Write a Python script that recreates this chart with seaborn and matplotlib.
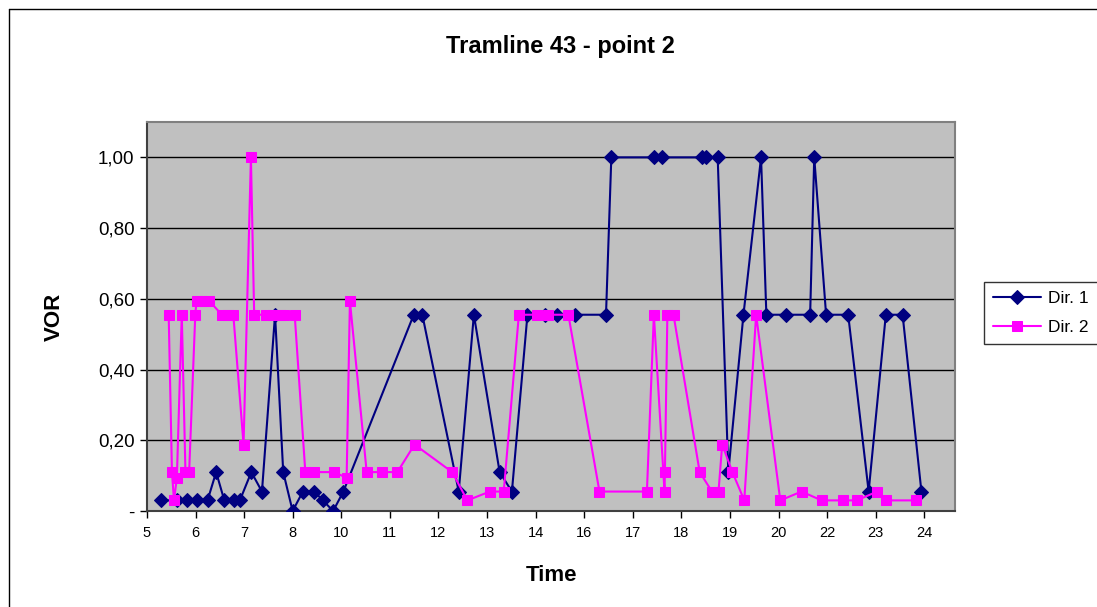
import matplotlib
matplotlib.use("Agg")
import matplotlib.pyplot as plt
import seaborn as sns
import pandas as pd
from matplotlib.lines import Line2D

# ---- data (time in hours, VOR) ----
dir1_time = [5.34, 5.73, 5.98, 6.22, 6.48, 6.69, 6.89, 7.12, 7.27, 7.55,
             7.81, 8.13, 8.33, 8.56, 8.81, 9.09, 9.30, 9.55, 9.80, 11.52,
             11.73, 12.62, 12.99, 13.62, 13.92, 14.30, 14.74, 15.03, 15.47, 16.22,
             16.35, 17.40, 17.60, 18.57, 18.67, 18.95, 19.21, 19.58, 20.01, 20.14,
             20.63, 21.21, 21.31, 21.60, 22.14, 22.64, 23.06, 23.47, 23.93]
dir1_vor = [0.03, 0.03, 0.03, 0.03, 0.03, 0.11, 0.03, 0.03, 0.03, 0.11,
            0.055, 0.555, 0.11, 0.0, 0.055, 0.055, 0.03, 0.0, 0.055, 0.555,
            0.555, 0.055, 0.555, 0.11, 0.055, 0.555, 0.555, 0.555, 0.555, 0.555,
            1.0, 1.0, 1.0, 1.0, 1.0, 1.0, 0.11, 0.555, 1.0, 0.555,
            0.555, 0.555, 1.0, 0.555, 0.555, 0.055, 0.555, 0.555, 0.055]

dir2_time = [5.53, 5.61, 5.66, 5.73, 5.85, 5.94, 6.03, 6.18, 6.21, 6.31,
             6.42, 6.52, 6.83, 6.97, 7.11, 7.36, 7.54, 7.62, 7.91, 8.08,
             8.24, 8.35, 8.61, 8.87, 9.07, 9.57, 9.88, 9.96, 10.37, 10.75,
             11.12, 11.54, 12.46, 12.83, 13.38, 13.72, 14.09, 14.54, 14.80, 15.30,
             16.06, 17.22, 17.39, 17.65, 17.66, 17.72, 17.87, 18.51, 18.81, 18.97,
             19.06, 19.31, 19.60, 19.89, 20.48, 21.00, 21.49, 22.02, 22.35, 22.85,
             23.07, 23.79]
dir2_vor = [0.555, 0.11, 0.03, 0.094, 0.555, 0.11, 0.11, 0.555, 0.594, 0.594,
            0.594, 0.594, 0.555, 0.555, 0.555, 0.188, 1.0, 0.555, 0.555, 0.555,
            0.555, 0.555, 0.555, 0.11, 0.11, 0.11, 0.094, 0.594, 0.11, 0.11,
            0.11, 0.188, 0.11, 0.03, 0.055, 0.055, 0.555, 0.555, 0.555, 0.555,
            0.055, 0.055, 0.555, 0.055, 0.11, 0.555, 0.555, 0.11, 0.055, 0.055,
            0.188, 0.11, 0.03, 0.555, 0.03, 0.055, 0.03, 0.03, 0.03, 0.055,
            0.03, 0.03]

x_tick_labels = ["5", "6", "7", "8", "10", "11", "12", "13", "14", "16",
                 "17", "18", "19", "20", "22", "23", "24"]
y_ticks = [0.0, 0.2, 0.4, 0.6, 0.8, 1.0]
y_tick_labels = ["-", "0,20", "0,40", "0,60", "0,80", "1,00"]

series_names = ["Dir. 1", "Dir. 2"]
colors = ["#000080", "#FF00FF"]

# ---- style ----
sns.set_style("white")
plt.rcParams["font.family"] = ["Liberation Sans", "DejaVu Sans"]
plt.rcParams["text.color"] = "black"
plt.rcParams["axes.labelcolor"] = "black"

W, H = 1097, 607
fig = plt.figure(figsize=(W / 100, H / 100), dpi=100)
ax = fig.add_axes([147 / W, 1 - 511 / H, (955 - 147) / W, (511 - 122) / H])
ax.set_facecolor("#C0C0C0")

df1 = pd.DataFrame({"t": dir1_time, "v": dir1_vor})
df2 = pd.DataFrame({"t": dir2_time, "v": dir2_vor})

sns.lineplot(data=df1, x="t", y="v", ax=ax, sort=False, estimator=None,
             color=colors[0], marker="D", markersize=7, markeredgecolor=colors[0],
             linewidth=1.5, label=series_names[0], zorder=3)
sns.lineplot(data=df2, x="t", y="v", ax=ax, sort=False, estimator=None,
             color=colors[1], marker="s", markersize=6.5, markeredgecolor=colors[1],
             linewidth=1.5, label=series_names[1], zorder=4)

# x axis: 17 evenly spaced ticks from 5 to 24
x0, x1 = 5.0, 24.0
step = (x1 - x0) / (len(x_tick_labels) - 1)
xt = [x0 + i * step for i in range(len(x_tick_labels))]
ax.set_xlim(5.0, 5.0 + (955 - 146) * step / 48.64)
ax.set_ylim(0, 1.1)
ax.set_xticks(xt)
ax.set_xticklabels(x_tick_labels, fontsize=10.5)
ax.set_yticks(y_ticks)
ax.set_yticklabels(y_tick_labels, fontsize=13.5)

ax.grid(axis="y", color="black", linewidth=1.0)
ax.grid(axis="x", visible=False)
ax.set_axisbelow(True)

for s in ["top", "right"]:
    ax.spines[s].set_color("#808080")
    ax.spines[s].set_linewidth(1.5)
for s in ["left", "bottom"]:
    ax.spines[s].set_color("#404040")
    ax.spines[s].set_linewidth(1.5)

ax.tick_params(axis="x", which="major", direction="out", length=5, width=1,
               color="black", labelcolor="black", bottom=True, pad=6)
ax.tick_params(axis="y", which="major", direction="out", length=5, width=1,
               color="black", labelcolor="black", left=True, pad=4)

ax.set_xlabel("Time", fontsize=16, fontweight="bold", labelpad=18)
ax.set_ylabel("VOR", fontsize=16, fontweight="bold", labelpad=24)

fig.text(560 / W, 1 - 47 / H, "Tramline 43 - point 2", fontsize=17,
         fontweight="bold", ha="center", va="center", color="black")

leg = ax.legend(loc="upper left", bbox_to_anchor=(984 / W, 1 - 282 / H),
                bbox_transform=fig.transFigure, frameon=True, fancybox=False,
                edgecolor="black", fontsize=12.5, handlelength=2.8,
                borderaxespad=0, borderpad=0.5, labelspacing=0.8, handletextpad=0.4)
leg.get_frame().set_linewidth(1.0)
for t in leg.get_texts():
    t.set_color("black")

# chart area border (left and top edges visible)
fig.add_artist(Line2D([9 / W, 9 / W], [0, 1 - 9 / H], transform=fig.transFigure,
                      color="black", linewidth=1))
fig.add_artist(Line2D([9 / W, 1], [1 - 9 / H, 1 - 9 / H], transform=fig.transFigure,
                      color="black", linewidth=1))

fig.savefig("out.png", dpi=100, facecolor="white")
